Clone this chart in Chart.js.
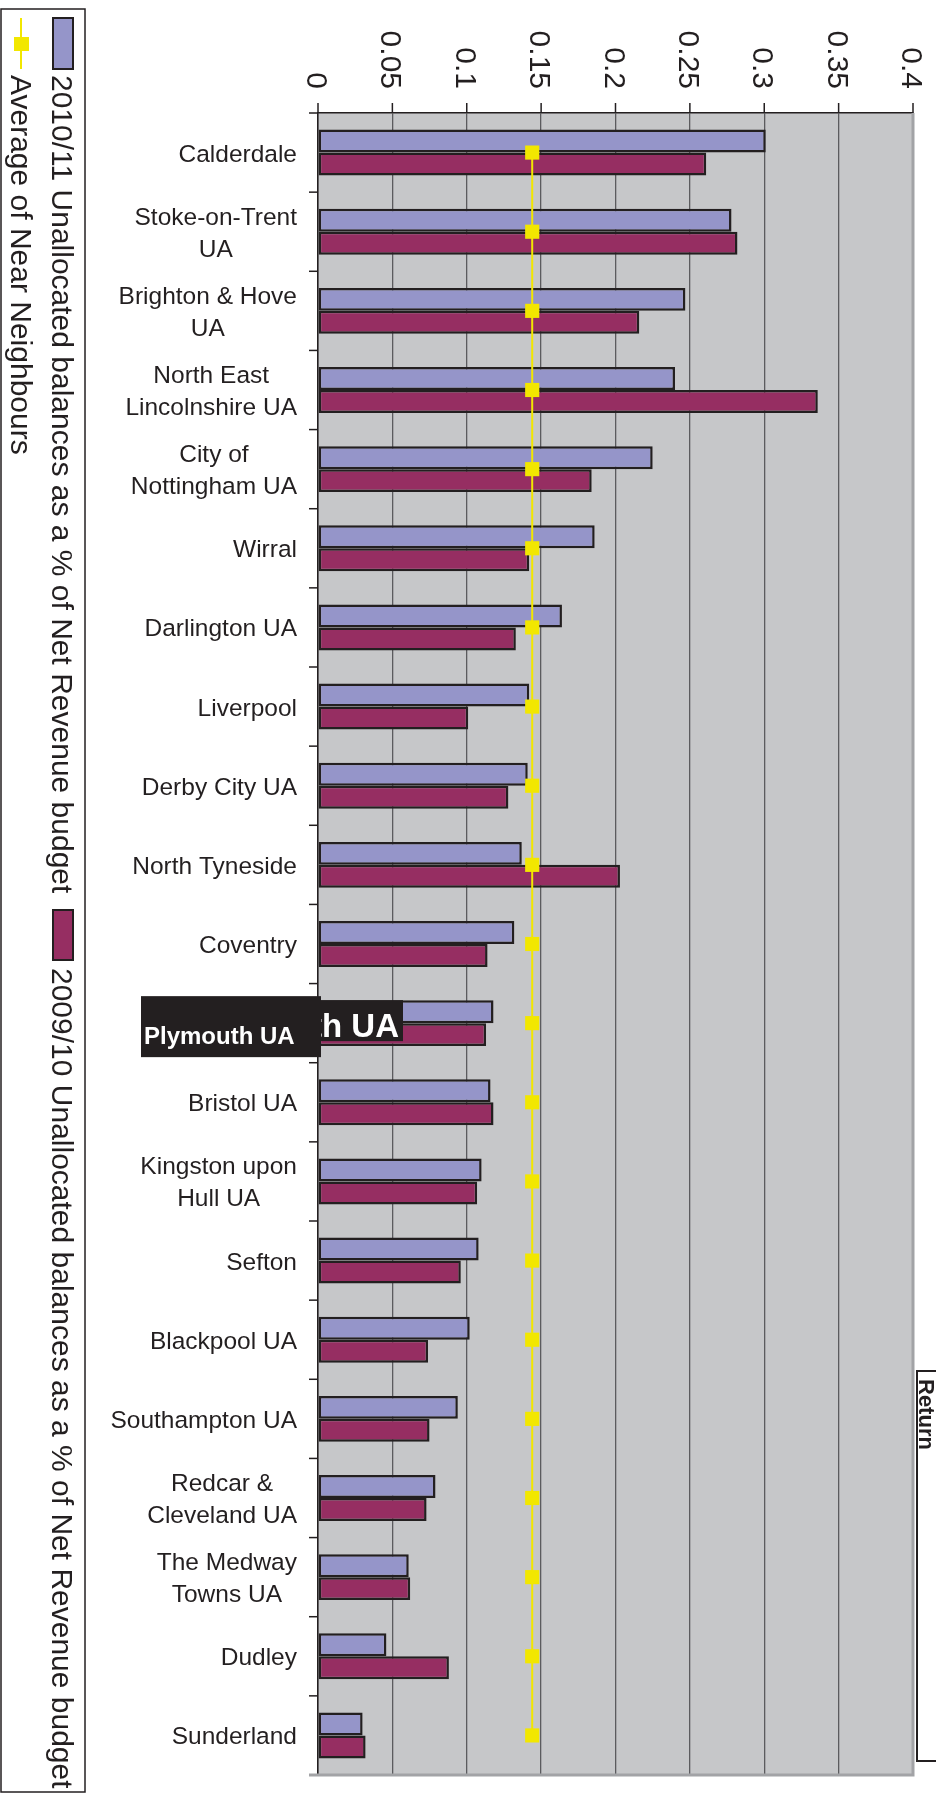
<!DOCTYPE html>
<html>
<head>
<meta charset="utf-8">
<title>Unallocated balances</title>
<script src="https://cdn.jsdelivr.net/npm/chart.js@4/dist/chart.umd.min.js"></script>
<style>
  html, body { margin: 0; padding: 0; background: #fff; }
  #wrap { width: 936px; height: 1798px; }
</style>
</head>
<body>
<div id="wrap"><canvas id="myChart" width="936" height="1798"></canvas></div>
<script>
// authorities, one entry per row; each entry is the label split into its lines
const categories = [
    ['Calderdale'],
    ['Stoke-on-Trent', 'UA'],
    ['Brighton & Hove', 'UA'],
    ['North East', 'Lincolnshire UA'],
    ['City of', 'Nottingham UA'],
    ['Wirral'],
    ['Darlington UA'],
    ['Liverpool'],
    ['Derby City UA'],
    ['North Tyneside'],
    ['Coventry'],
    ['Plymouth UA'],
    ['Bristol UA'],
    ['Kingston upon', 'Hull UA'],
    ['Sefton'],
    ['Blackpool UA'],
    ['Southampton UA'],
    ['Redcar &', 'Cleveland UA'],
    ['The Medway', 'Towns UA'],
    ['Dudley'],
    ['Sunderland']
];

const balances1011 = [0.301, 0.278, 0.247, 0.240, 0.225, 0.186, 0.164, 0.142, 0.141, 0.137, 0.132,
                      0.118, 0.116, 0.110, 0.108, 0.102, 0.094, 0.079, 0.061, 0.046, 0.030];
const balances0910 = [0.261, 0.282, 0.216, 0.336, 0.184, 0.142, 0.133, 0.101, 0.128, 0.203, 0.114,
                      0.113, 0.118, 0.107, 0.096, 0.074, 0.075, 0.073, 0.062, 0.088, 0.032];
const nearNeighbours = [0.144, 0.144, 0.144, 0.144, 0.144, 0.144, 0.144, 0.144, 0.144, 0.144, 0.144,
                        0.144, 0.144, 0.144, 0.144, 0.144, 0.144, 0.144, 0.144, 0.144, 0.144];

const valueTicks = ['0', '0.05', '0.1', '0.15', '0.2', '0.25', '0.3', '0.35', '0.4'];

const seriesNames = [
    '2010/11 Unallocated balances as a % of Net Revenue budget',
    '2009/10 Unallocated balances as a % of Net Revenue budget',
    'Average of Near Neighbours'
];

const highlighted = 'Plymouth UA';

const FONT = '"Liberation Sans", Arial, sans-serif';
const INK = '#231f20';
const BLUE = '#9595c9';
const PLUM = '#962e62';
const YELLOW = '#f2e700';

function line(ctx, x1, y1, x2, y2){
    ctx.beginPath();
    ctx.moveTo(x1, y1);
    ctx.lineTo(x2, y2);
    ctx.stroke();
}

// text running top to bottom, glyph tops pointing right
function downText(ctx, text, x, y, align){
    ctx.save();
    ctx.translate(x, y);
    ctx.rotate(Math.PI / 2);
    ctx.textAlign = align || 'left';
    ctx.textBaseline = 'alphabetic';
    ctx.fillText(text, 0, 0);
    ctx.restore();
}

const backdrop = {
    id: 'backdrop',
    beforeDraw(chart){
        const {ctx, chartArea: a} = chart;
        ctx.save();
        ctx.fillStyle = '#fff';
        ctx.fillRect(0, 0, chart.width, chart.height);
        ctx.fillStyle = '#c6c7c9';
        ctx.fillRect(a.left, a.top, a.right - a.left, a.bottom - a.top);
        ctx.restore();
    }
};

const axesAndLegend = {
    id: 'axesAndLegend',
    afterDraw(chart){
        const {ctx, chartArea: a, scales: {x, y}} = chart;
        ctx.save();

        // plot frame on the far sides
        ctx.strokeStyle = '#a2a3a6';
        ctx.lineWidth = 3;
        ctx.beginPath();
        ctx.moveTo(a.right, a.top);
        ctx.lineTo(a.right, a.bottom);
        ctx.lineTo(a.left - 9, a.bottom);
        ctx.stroke();

        // value axis along the top
        ctx.strokeStyle = INK;
        ctx.fillStyle = INK;
        ctx.lineWidth = 1.5;
        ctx.font = '30px ' + FONT;
        valueTicks.forEach(t => {
            const px = x.getPixelForValue(parseFloat(t));
            line(ctx, px, a.top - 10, px, a.top);
            downText(ctx, t, px - 11, a.top - 24, 'right');
        });

        // category ticks between rows
        for (let k = 0; k < categories.length; k++) {
            const py = y.getPixelForValue(k - 0.5);
            line(ctx, a.left - 9, py, a.left, py);
        }

        // category labels, lines centred on each other
        ctx.font = '24.5px ' + FONT;
        ctx.textAlign = 'center';
        ctx.textBaseline = 'alphabetic';
        categories.forEach((lines, i) => {
            if (lines.join(' ') === highlighted) return;
            const cy = y.getPixelForValue(i);
            const w = Math.max(...lines.map(s => ctx.measureText(s).width));
            const cx = a.left - 21 - w / 2;
            const first = cy + 9 - (lines.length - 1) * 16;
            lines.forEach((s, j) => ctx.fillText(s, cx, first + j * 32));
        });

        // highlighted authority
        const hi = categories.findIndex(c => c.join(' ') === highlighted);
        const hy = y.getPixelForValue(hi);
        ctx.fillStyle = INK;
        ctx.fillRect(141, hy - 27, a.left + 3 - 141, 61);
        ctx.fillRect(a.left + 3, hy - 23, 82, 41);
        ctx.fillStyle = '#fff';
        ctx.textAlign = 'left';
        ctx.font = 'bold 24px ' + FONT;
        ctx.fillText(highlighted, 144, hy + 21);
        ctx.save();
        ctx.beginPath();
        ctx.rect(a.left + 3, hy - 23, 82, 41);
        ctx.clip();
        ctx.textAlign = 'right';
        ctx.font = 'bold 33px ' + FONT;
        ctx.fillText(highlighted, a.left + 81, hy + 14);
        ctx.restore();

        // legend box
        ctx.fillStyle = '#fff';
        ctx.fillRect(1, 9, 84, 1783);
        ctx.strokeStyle = INK;
        ctx.lineWidth = 1.5;
        ctx.strokeRect(1, 9, 84, 1783);

        ctx.lineWidth = 2;
        ctx.fillStyle = BLUE;
        ctx.fillRect(53, 18, 20, 51);
        ctx.strokeRect(53, 18, 20, 51);
        ctx.fillStyle = PLUM;
        ctx.fillRect(53, 910, 20, 50);
        ctx.strokeRect(53, 910, 20, 50);

        ctx.strokeStyle = YELLOW;
        ctx.lineWidth = 2;
        line(ctx, 21, 18, 21, 69);
        ctx.fillStyle = YELLOW;
        ctx.fillRect(14, 37, 15, 14);

        ctx.fillStyle = INK;
        ctx.font = '30px ' + FONT;
        downText(ctx, seriesNames[0], 52, 75);
        downText(ctx, seriesNames[1], 52, 968);
        downText(ctx, seriesNames[2], 11, 75);

        // Return button
        ctx.fillStyle = '#fff';
        ctx.fillRect(917, 1371, 30, 390);
        ctx.strokeStyle = INK;
        ctx.lineWidth = 2;
        ctx.strokeRect(917, 1371, 30, 390);
        ctx.fillStyle = INK;
        ctx.font = 'bold 22px ' + FONT;
        downText(ctx, 'Return', 919, 1379);

        ctx.restore();
    }
};

var ctx = document.getElementById('myChart').getContext('2d');
var chart = new Chart(ctx, {
    type: 'bar',
    data: {
        labels: categories.map(c => c.join(' ')),
        datasets: [{
            type: 'line',
            label: seriesNames[2],
            data: nearNeighbours,
            indexAxis: 'y',
            order: 0,
            borderColor: YELLOW,
            borderWidth: 2,
            pointStyle: 'rect',
            pointRadius: 10,
            pointBackgroundColor: YELLOW,
            pointBorderColor: YELLOW,
            pointBorderWidth: 0,
            fill: false
        }, {
            label: seriesNames[0],
            data: balances1011,
            indexAxis: 'y',
            order: 1,
            backgroundColor: BLUE,
            borderColor: INK,
            borderWidth: 2.5,
            borderSkipped: false,
            categoryPercentage: 0.58,
            barPercentage: 1
        }, {
            label: seriesNames[1],
            data: balances0910,
            indexAxis: 'y',
            order: 1,
            backgroundColor: PLUM,
            borderColor: INK,
            borderWidth: 2.5,
            borderSkipped: false,
            categoryPercentage: 0.58,
            barPercentage: 1
        }]
    },
    options: {
        indexAxis: 'y',
        responsive: false,
        animation: false,
        layout: { padding: { left: 318, top: 113, right: 23, bottom: 23 } },
        scales: {
            x: {
                type: 'linear',
                position: 'top',
                min: 0,
                max: 0.4,
                ticks: { display: false, stepSize: 0.05 },
                grid: { color: '#5b5b5e', lineWidth: 1.3, drawTicks: false },
                border: { color: INK, width: 1.5 }
            },
            y: {
                type: 'category',
                position: 'left',
                ticks: { display: false },
                grid: { display: false, drawTicks: false },
                border: { color: INK, width: 1.5 }
            }
        },
        plugins: {
            legend: { display: false },
            tooltip: { enabled: false }
        }
    },
    plugins: [backdrop, axesAndLegend]
});
</script>
</body>
</html>
